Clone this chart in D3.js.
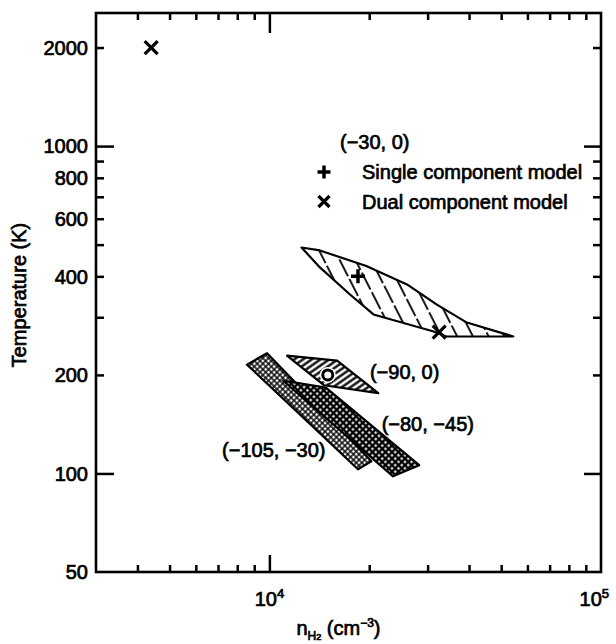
<!DOCTYPE html>
<html>
<head>
<meta charset="utf-8">
<title>Temperature vs n(H2)</title>
<script src="https://cdn.jsdelivr.net/npm/d3@7"></script>
<style>
  body { margin: 0; background: #fff; }
  svg { display: block; }
  text { font-family: "Liberation Sans", Arial, sans-serif; fill: #000; stroke: #000; stroke-width: 0.7px; }
</style>
</head>
<body>
<div id="chart"></div>
<script>
// temperature vs H2 density, log-log, four velocity ranges

var yLabelTicks = [50, 100, 200, 400, 600, 800, 1000, 2000];
var yMinorTicks = [300, 500, 700, 900];
var yDecadeTicks = [100, 1000];
var xDecadeTicks = [1e4, 1e5];
var xMinorTicks = [4000, 5000, 6000, 7000, 8000, 9000,
                   20000, 30000, 40000, 50000, 60000, 70000, 80000, 90000];

// region outlines, [n_H2, T]
var region_30_0 = [[12500, 490], [14200, 480], [19600, 430], [26000, 378], [32000, 328],
                   [39400, 289], [54400, 262], [34200, 262], [31100, 272], [20600, 306],
                   [17500, 352], [14200, 426]];
var region_90_0 = [[11300, 229], [16000, 221], [21300, 176], [14600, 186]];
var region_105_30 = [[8560, 215], [9840, 233], [20300, 109], [18500, 103]];
var region_80_45 = [[11000, 192], [14800, 183], [28300, 106], [23600, 98]];

var singlePoints = [[18500, 400]];
var dualPoints = [[4400, 2000], [32500, 270]];
var circlePoints = [[15000, 200]];

var legendItems = ["Single component model", "Dual component model"];

var margin = {top: 13, right: 15, bottom: 72, left: 96},
    width = 616 - margin.left - margin.right,
    height = 644 - margin.top - margin.bottom;

var svg = d3.select("#chart")
  .append("svg")
    .attr("width", 616)
    .attr("height", 644);

var defs = svg.append("defs");

// sparse broken lines
var pA = defs.append("pattern").attr("id", "hatchA")
  .attr("patternUnits", "userSpaceOnUse")
  .attr("width", 14).attr("height", 22)
  .attr("patternTransform", "rotate(-27)");
pA.append("line").attr("x1", 7).attr("y1", 0).attr("x2", 7).attr("y2", 19)
  .attr("stroke", "#000").attr("stroke-width", 1.8);

// dense diagonal lines
var pB = defs.append("pattern").attr("id", "hatchB")
  .attr("patternUnits", "userSpaceOnUse")
  .attr("width", 5).attr("height", 5)
  .attr("patternTransform", "rotate(55)");
pB.append("line").attr("x1", 2.5).attr("y1", 0).attr("x2", 2.5).attr("y2", 5)
  .attr("stroke", "#000").attr("stroke-width", 2.3);

// fine crosshatch
var pC = defs.append("pattern").attr("id", "hatchC")
  .attr("patternUnits", "userSpaceOnUse")
  .attr("width", 4).attr("height", 4)
  .attr("patternTransform", "rotate(45)");
pC.append("rect").attr("width", 4).attr("height", 4).attr("fill", "#fff");
pC.append("line").attr("x1", 0).attr("y1", 2).attr("x2", 4).attr("y2", 2)
  .attr("stroke", "#000").attr("stroke-width", 1.4);
pC.append("line").attr("x1", 2).attr("y1", 0).attr("x2", 2).attr("y2", 4)
  .attr("stroke", "#000").attr("stroke-width", 1.4);

// coarse crosshatch, black with white holes
var pD = defs.append("pattern").attr("id", "hatchD")
  .attr("patternUnits", "userSpaceOnUse")
  .attr("width", 4.6).attr("height", 4.6)
  .attr("patternTransform", "rotate(45)");
pD.append("rect").attr("width", 4.6).attr("height", 4.6).attr("fill", "#000");
pD.append("rect").attr("x", 1.2).attr("y", 1.2).attr("width", 2.2).attr("height", 2.2).attr("fill", "#fff");

var g = svg.append("g")
    .attr("transform", "translate(" + margin.left + "," + margin.top + ")");

var x = d3.scaleLog().domain([3000, 1e5]).range([0, width]);
var y = d3.scaleLog().domain([50, 2550]).range([height, 0]);

var line = d3.line()
  .x(function(d) { return x(d[0]); })
  .y(function(d) { return y(d[1]); })
  .curve(d3.curveLinearClosed);

// ticks, all pointing inward
function tickSet(axisFn, values, len, transform) {
  var a = g.append("g")
    .attr("transform", transform)
    .call(axisFn.tickValues(values).tickSize(-len).tickSizeOuter(0).tickFormat(""));
  a.select(".domain").remove();
  a.selectAll("line").attr("stroke", "#000").attr("stroke-width", 2.5);
  a.selectAll("text").remove();
}
var yNonDecade = yLabelTicks.filter(function(v) { return yDecadeTicks.indexOf(v) < 0 && v != 50; }).concat(yMinorTicks);
tickSet(d3.axisLeft(y), yNonDecade, 8, null);
tickSet(d3.axisLeft(y), yDecadeTicks, 18, null);
tickSet(d3.axisRight(y), yNonDecade, 8, "translate(" + width + ",0)");
tickSet(d3.axisRight(y), yDecadeTicks, 17, "translate(" + width + ",0)");
tickSet(d3.axisTop(x), xMinorTicks, 7, null);
tickSet(d3.axisTop(x), [1e4], 20, null);
tickSet(d3.axisBottom(x), xMinorTicks, 7, "translate(0," + height + ")");
tickSet(d3.axisBottom(x), [1e4], 17, "translate(0," + height + ")");

// frame
g.append("rect")
  .attr("width", width).attr("height", height)
  .attr("fill", "none").attr("stroke", "#000").attr("stroke-width", 2.6);

// y tick labels
g.selectAll(".ylab")
  .data(yLabelTicks)
  .enter().append("text")
    .attr("x", -8)
    .attr("y", function(d) { return y(d); })
    .attr("dy", "0.36em")
    .attr("text-anchor", "end")
    .style("font-size", "20px")
    .text(function(d) { return d; });

// x tick labels as powers of ten
g.selectAll(".xlab")
  .data(xDecadeTicks)
  .enter().append("text")
    .attr("x", function(d) { return x(d); })
    .attr("y", height + 34)
    .attr("text-anchor", "middle")
    .style("font-size", "20px")
    .each(function(d) {
      var t = d3.select(this);
      t.append("tspan").text("10");
      t.append("tspan").attr("dy", -8).style("font-size", "13px").text(Math.round(Math.log10(d)));
      var w = this.getComputedTextLength();
      var cx = Math.min(x(d), 616 - margin.left - 7 - w / 2);
      t.attr("x", cx);
    });

// axis titles
var xt = g.append("text")
  .attr("x", width / 2 - 10)
  .attr("y", height + 63)
  .attr("text-anchor", "middle")
  .style("font-size", "20px");
xt.append("tspan").text("n");
xt.append("tspan").attr("dy", 5).style("font-size", "12px").text("H");
xt.append("tspan").style("font-size", "9px").text("2");
xt.append("tspan").attr("dy", -5).text(" (cm");
xt.append("tspan").attr("dy", -8).style("font-size", "12px").text("\u22123");
xt.append("tspan").attr("dy", 8).text(")");

g.append("text")
  .attr("transform", "translate(" + (26 - margin.left) + "," + (295 - margin.top) + ") rotate(-90)")
  .attr("text-anchor", "middle")
  .style("font-size", "20px")
  .text("Temperature (K)");

// regions
function region(data, fill) {
  g.append("path")
    .datum(data)
    .attr("d", line)
    .attr("fill", fill)
    .attr("stroke", "#000")
    .attr("stroke-width", 2.2)
    .attr("stroke-linejoin", "round");
}
region(region_105_30, "url(#hatchC)");
region(region_80_45, "url(#hatchD)");
region(region_90_0, "url(#hatchB)");
region(region_30_0, "url(#hatchA)");

// markers
function plusPath(s) { return "M" + (-s) + ",0H" + s + "M0," + (-s) + "V" + s; }
function crossPath(s) { return "M" + (-s) + "," + (-s) + "L" + s + "," + s + "M" + (-s) + "," + s + "L" + s + "," + (-s); }

g.selectAll(".single")
  .data(singlePoints)
  .enter().append("path")
    .attr("transform", function(d) { return "translate(" + x(d[0]) + "," + y(d[1]) + ")"; })
    .attr("d", plusPath(7))
    .attr("stroke", "#000").attr("stroke-width", 3.5);

g.selectAll(".dual")
  .data(dualPoints)
  .enter().append("path")
    .attr("transform", function(d) { return "translate(" + x(d[0]) + "," + y(d[1]) + ")"; })
    .attr("d", crossPath(6.5))
    .attr("stroke", "#000").attr("stroke-width", 3.2);

g.selectAll(".circ-halo")
  .data(circlePoints)
  .enter().append("circle")
    .attr("cx", function(d) { return x(d[0]); })
    .attr("cy", function(d) { return y(d[1]); })
    .attr("r", 8)
    .attr("fill", "#fff");
g.selectAll(".circ")
  .data(circlePoints)
  .enter().append("circle")
    .attr("cx", function(d) { return x(d[0]); })
    .attr("cy", function(d) { return y(d[1]); })
    .attr("r", 5)
    .attr("fill", "#fff")
    .attr("stroke", "#000").attr("stroke-width", 3);

// region labels
function label(n, T, txt) {
  g.append("text")
    .attr("x", x(n)).attr("y", y(T))
    .style("font-size", "20px")
    .text(txt);
}
label(20100, 194, "(\u221290, 0)");
label(21800, 134.5, "(\u221280, \u221245)");
label(7200, 112, "(\u2212105, \u221230)");

// legend
var leg = g.append("g").attr("transform", "translate(228,159)");
leg.append("text").attr("x", 16).attr("y", -23).style("font-size", "20px").text("(\u221230, 0)");
leg.append("path").attr("d", plusPath(6.5)).attr("stroke", "#000").attr("stroke-width", 3.5);
leg.append("path").attr("transform", "translate(0,29.5)").attr("d", crossPath(5.5))
  .attr("stroke", "#000").attr("stroke-width", 3.2);
leg.selectAll(".lt")
  .data(legendItems)
  .enter().append("text")
    .attr("x", 38)
    .attr("y", function(d, i) { return 7 + i * 29.5; })
    .style("font-size", "20px")
    .text(function(d) { return d; });
</script>
</body>
</html>
